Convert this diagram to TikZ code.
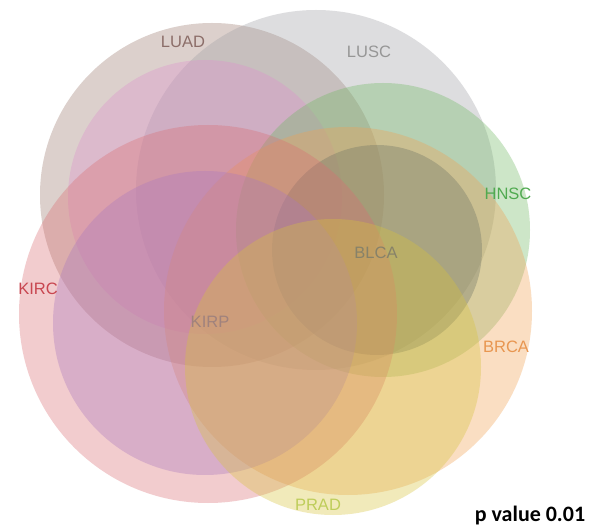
\documentclass[tikz,border=0pt]{standalone}
\usepackage{fontspec}
\setmainfont{Liberation Sans}
\newfontfamily\pvfont{Carlito}
\definecolor{cLUAD}{RGB}{155,121,109}
\definecolor{cX}{RGB}{222,145,205}
\definecolor{cLUSC}{RGB}{160,160,165}
\definecolor{cHNSC}{RGB}{112,184,98}
\definecolor{cBRCA}{RGB}{241,161,83}
\definecolor{cBLCA}{RGB}{110,115,100}
\definecolor{cPRAD}{RGB}{215,195,60}
\definecolor{cKIRC}{RGB}{218,109,115}
\definecolor{cKIRP}{RGB}{170,120,190}
\definecolor{tLUAD}{RGB}{140,110,105}
\definecolor{tLUSC}{RGB}{150,150,150}
\definecolor{tHNSC}{RGB}{80,170,80}
\definecolor{tBRCA}{RGB}{232,150,80}
\definecolor{tPRAD}{RGB}{190,205,90}
\definecolor{tKIRC}{RGB}{200,70,80}
\definecolor{tKIRP}{RGB}{160,130,125}
\definecolor{tBLCA}{RGB}{135,130,105}
\tikzset{
  setc/.style={fill=#1, fill opacity=0.35, draw=none},
  lab/.style={text=#1, font=\fontsize{16.5}{16.5}\selectfont, inner sep=0pt}
}
\begin{document}
\begin{tikzpicture}[x=1pt,y=-1pt]
\useasboundingbox[fill=white] (0,0) rectangle (603,529);
\fill[setc=cLUAD] (212,195) circle[radius=172pt];
\fill[setc=cLUSC] (316,190) circle[radius=180pt];
\fill[setc=cX] (205,197) circle[radius=137pt];
\fill[setc=cHNSC] (383,230) circle[radius=147pt];
\fill[setc=cBRCA] (348,311) circle[radius=184pt];
\fill[setc=cBLCA] (377,250) circle[radius=105pt];
\fill[setc=cKIRC] (208,314) circle[radius=189pt];
\fill[setc=cKIRP] (205,323) circle[radius=152pt];
\fill[setc=cPRAD] (333,367) circle[radius=148pt];
\node[lab=tLUAD] (nLUAD) at (183,42) {LUAD};
\node[lab=tLUSC] (nLUSC) at (369,52) {LUSC};
\node[lab=tHNSC] (nHNSC) at (508,194) {HNSC};
\node[lab=tBRCA] (nBRCA) at (506,347) {BRCA};
\node[lab=tPRAD] (nPRAD) at (318,505) {PRAD};
\node[lab=tKIRC] (nKIRC) at (38,289) {KIRC};
\node[lab=tKIRP] (nKIRP) at (210,322) {KIRP};
\node[lab=tBLCA] (nBLCA) at (376,253) {BLCA};
\node[inner sep=0pt, font=\pvfont\bfseries\fontsize{22}{22}\selectfont] (pv) at (530,516) {p value 0.01};
\end{tikzpicture}
\end{document}
